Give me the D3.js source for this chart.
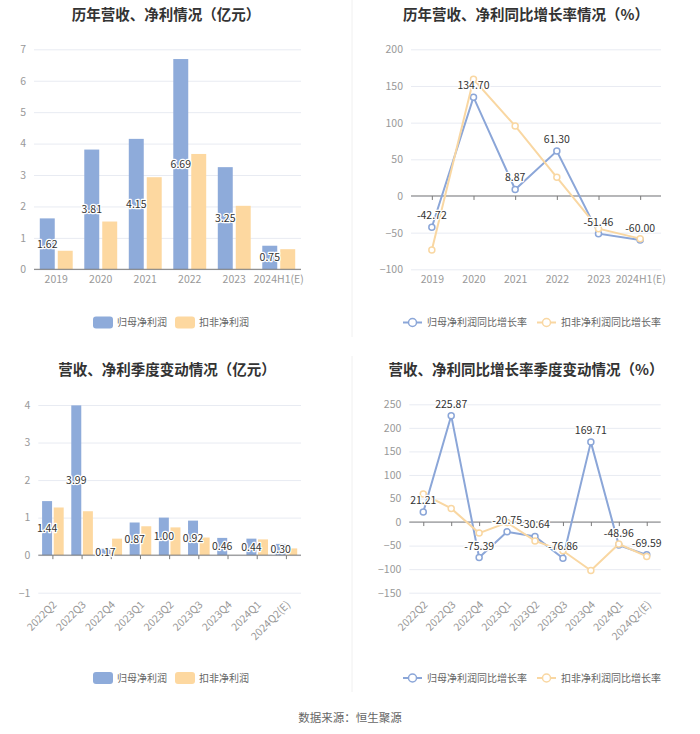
<!DOCTYPE html>
<html>
<head>
<meta charset="utf-8">
<script src="https://cdn.jsdelivr.net/npm/d3@7"></script>
<style>
  body { margin: 0; background: #fff; }
  text { font-family: "Noto Sans CJK SC", "Noto Sans", sans-serif; }
</style>
</head>
<body>
<div id="chart"></div>
<script>
// data
var years = ["2019", "2020", "2021", "2022", "2023", "2024H1(E)"];
var quarters = ["2022Q2", "2022Q3", "2022Q4", "2023Q1", "2023Q2", "2023Q3", "2023Q4", "2024Q1", "2024Q2(E)"];

var yearParent = [1.62, 3.81, 4.15, 6.69, 3.25, 0.75];        // 归母净利润 (亿元)
var yearDeducted = [0.59, 1.52, 2.93, 3.67, 2.02, 0.64];      // 扣非净利润 (亿元)
var yearParentRate = [-42.72, 134.70, 8.87, 61.30, -51.46, -60.00];
var yearDeductedRate = [-73.6, 159, 95.5, 25.5, -44.6, -58.2];

var quarterParent = [1.44, 3.99, 0.17, 0.87, 1.00, 0.92, 0.46, 0.44, 0.30];
var quarterDeducted = [1.27, 1.17, 0.44, 0.77, 0.74, 0.47, 0, 0.42, 0.18];
var quarterParentRate = [21.21, 225.87, -75.39, -20.75, -30.64, -76.86, 169.71, -48.96, -69.59];
var quarterDeductedRate = [59.5, 29, -23.4, -1, -40, -61, -102.8, -46.7, -73];

var barNames = ["归母净利润", "扣非净利润"];
var rateNames = ["归母净利润同比增长率", "扣非净利润同比增长率"];

var yearValueTicks = [0, 1, 2, 3, 4, 5, 6, 7];
var yearRateTicks = [-100, -50, 0, 50, 100, 150, 200];
var quarterValueTicks = [-1, 0, 1, 2, 3, 4];
var quarterRateTicks = [-150, -100, -50, 0, 50, 100, 150, 200, 250];

var blue = "#8eabda", orange = "#fdd8a0";
var lineBlue = "#8ba6d8", lineOrange = "#f9d7a2";

var svg = d3.select("#chart").append("svg")
    .attr("width", 700)
    .attr("height", 734);

// faint divider between left and right panels
svg.append("line").attr("x1", 352).attr("x2", 352).attr("y1", 0).attr("y2", 337)
    .attr("stroke", "#f0f0f0");
svg.append("line").attr("x1", 352).attr("x2", 352).attr("y1", 356).attr("y2", 692)
    .attr("stroke", "#f0f0f0");

function drawTitle(cx, cy, txt) {
    svg.append("text")
        .attr("x", cx).attr("y", cy)
        .attr("text-anchor", "middle")
        .attr("dominant-baseline", "central")
        .attr("font-size", "14.5px")
        .attr("font-weight", "bold")
        .attr("fill", "#333")
        .text(txt);
}

function drawYAxis(p, y, ticks) {
    var g = svg.append("g").attr("transform", "translate(" + p.left + ",0)");
    g.call(d3.axisLeft(y).tickValues(ticks).tickFormat(d3.format("d"))
        .tickSize(-(p.right - p.left)).tickPadding(8));
    g.select(".domain").remove();
    g.selectAll(".tick line").attr("stroke", "#e8ebf2");
    g.selectAll(".tick text").attr("fill", "#999").attr("font-size", "10.5px")
        .style("font-family", "'Noto Sans CJK SC', sans-serif");
}

function drawZeroLine(p, y) {
    svg.append("line")
        .attr("x1", p.left).attr("x2", p.right)
        .attr("y1", y(0)).attr("y2", y(0))
        .attr("stroke", "#7a7a7a");
}

function drawXAxis(p, x, y, rotate, showTicks) {
    if (showTicks) {
        var t = svg.append("g").attr("transform", "translate(0," + y(0) + ")");
        t.call(d3.axisBottom(x).tickSize(4).tickFormat(""));
        t.select(".domain").remove();
        t.selectAll(".tick line").attr("stroke", "#7a7a7a");
    }
    var g = svg.append("g").attr("transform", "translate(0," + p.bottom + ")");
    g.call(d3.axisBottom(x).tickSize(0).tickPadding(6));
    g.select(".domain").remove();
    var txt = g.selectAll(".tick text").attr("fill", "#999").attr("font-size", "10.5px")
        .style("font-family", "'Noto Sans CJK SC', sans-serif");
    if (rotate) {
        txt.attr("y", 0).attr("dy", "0.35em")
            .attr("text-anchor", "end")
            .attr("transform", "translate(2,10) rotate(-45)");
    }
}

function valueLabel(sel) {
    sel.attr("text-anchor", "middle")
        .attr("font-size", "10.5px")
        .attr("fill", "#333")
        .attr("stroke", "#fff")
        .attr("stroke-width", 2.5)
        .attr("paint-order", "stroke")
        .attr("stroke-linejoin", "round");
}

function barPanel(p, cats, s1, s2, ticks) {
    var y = d3.scaleLinear().domain([ticks[0], ticks[ticks.length - 1]]).range([p.bottom, p.top]);
    var x = d3.scaleBand().domain(cats).range([p.left, p.right]).paddingInner(0.26).paddingOuter(0.13);
    var x1 = d3.scaleBand().domain([0, 1]).range([0, x.bandwidth()]).paddingInner(p.gap);

    drawYAxis(p, y, ticks);

    var rows = cats.map(function(c, i) { return { cat: c, vals: [s1[i], s2[i]] }; });
    var grp = svg.append("g").selectAll("g").data(rows).enter().append("g")
        .attr("transform", function(d) { return "translate(" + x(d.cat) + ",0)"; });
    grp.selectAll("rect")
        .data(function(d) { return d.vals; })
        .enter().append("rect")
        .attr("x", function(d, i) { return x1(i); })
        .attr("width", x1.bandwidth())
        .attr("y", function(d) { return y(Math.max(0, d)); })
        .attr("height", function(d) { return Math.abs(y(d) - y(0)); })
        .attr("fill", function(d, i) { return i === 0 ? blue : orange; });

    drawZeroLine(p, y);
    drawXAxis(p, x, y, p.rotate, p.rotate);

    svg.append("g").selectAll("text").data(rows).enter().append("text")
        .attr("x", function(d) { return x(d.cat) + x1(0) + x1.bandwidth() / 2; })
        .attr("y", function(d) { return (y(d.vals[0]) + y(0)) / 2; })
        .attr("dy", "0.35em")
        .call(valueLabel)
        .text(function(d) { return d.vals[0].toFixed(2); });

    // legend
    var lg = svg.append("g").attr("transform", "translate(0," + p.legendY + ")");
    [0, 1].forEach(function(i) {
        var lx = i === 0 ? 93 : 175;
        lg.append("rect").attr("x", lx).attr("y", -6).attr("width", 20).attr("height", 12)
            .attr("rx", 3).attr("fill", i === 0 ? blue : orange);
        lg.append("text").attr("x", lx + 24).attr("y", 0).attr("dy", "0.35em")
            .attr("font-size", "10px").attr("fill", "#666").text(barNames[i]);
    });
}

function linePanel(p, cats, s1, s2, ticks) {
    var y = d3.scaleLinear().domain([ticks[0], ticks[ticks.length - 1]]).range([p.bottom, p.top]);
    var x = d3.scalePoint().domain(cats).range([p.left, p.right]).padding(0.5);

    drawYAxis(p, y, ticks);
    drawZeroLine(p, y);
    drawXAxis(p, x, y, p.rotate, true);

    var line = d3.line()
        .x(function(d, i) { return x(cats[i]); })
        .y(function(d) { return y(d); });

    [[s1, lineBlue], [s2, lineOrange]].forEach(function(s) {
        svg.append("path").datum(s[0])
            .attr("d", line)
            .attr("fill", "none")
            .attr("stroke", s[1])
            .attr("stroke-width", 2);
        svg.append("g").selectAll("circle").data(s[0]).enter().append("circle")
            .attr("cx", function(d, i) { return x(cats[i]); })
            .attr("cy", function(d) { return y(d); })
            .attr("r", 3)
            .attr("fill", "#fff")
            .attr("stroke", s[1])
            .attr("stroke-width", 1.5);
    });

    svg.append("g").selectAll("text").data(s1).enter().append("text")
        .attr("x", function(d, i) { return x(cats[i]); })
        .attr("y", function(d) { return y(d) - 8; })
        .call(valueLabel)
        .text(function(d) { return d.toFixed(2); });

    var lg = svg.append("g").attr("transform", "translate(0," + p.legendY + ")");
    [0, 1].forEach(function(i) {
        var lx = i === 0 ? 403 : 537;
        var c = i === 0 ? lineBlue : lineOrange;
        lg.append("line").attr("x1", lx).attr("x2", lx + 19).attr("y1", 0).attr("y2", 0)
            .attr("stroke", c).attr("stroke-width", 2);
        lg.append("circle").attr("cx", lx + 9.5).attr("cy", 0).attr("r", 4)
            .attr("fill", "#fff").attr("stroke", c).attr("stroke-width", 1.5);
        lg.append("text").attr("x", lx + 24).attr("y", 0).attr("dy", "0.35em")
            .attr("font-size", "10px").attr("fill", "#666").text(rateNames[i]);
    });
}

drawTitle(166, 13, "历年营收、净利情况（亿元）");
drawTitle(526, 13, "历年营收、净利同比增长率情况（%）");
drawTitle(167, 368, "营收、净利季度变动情况（亿元）");
drawTitle(526, 368, "营收、净利同比增长率季度变动情况（%）");

barPanel({ left: 34, right: 301, top: 49.3, bottom: 269.3, gap: 0.167, rotate: false, legendY: 322.5 },
    years, yearParent, yearDeducted, yearValueTicks);
linePanel({ left: 411, right: 661, top: 49.3, bottom: 269.3, rotate: false, legendY: 322.5 },
    years, yearParentRate, yearDeductedRate, yearRateTicks);
barPanel({ left: 38.3, right: 301, top: 405, bottom: 592.7, gap: 0.14, rotate: true, legendY: 678 },
    quarters, quarterParent, quarterDeducted, quarterValueTicks);
linePanel({ left: 409.3, right: 660.7, top: 404.3, bottom: 592.7, rotate: true, legendY: 678 },
    quarters, quarterParentRate, quarterDeductedRate, quarterRateTicks);

svg.append("text")
    .attr("x", 350).attr("y", 717)
    .attr("text-anchor", "middle")
    .attr("dominant-baseline", "central")
    .attr("font-size", "11.5px")
    .attr("fill", "#666")
    .text("数据来源：恒生聚源");
</script>
</body>
</html>
